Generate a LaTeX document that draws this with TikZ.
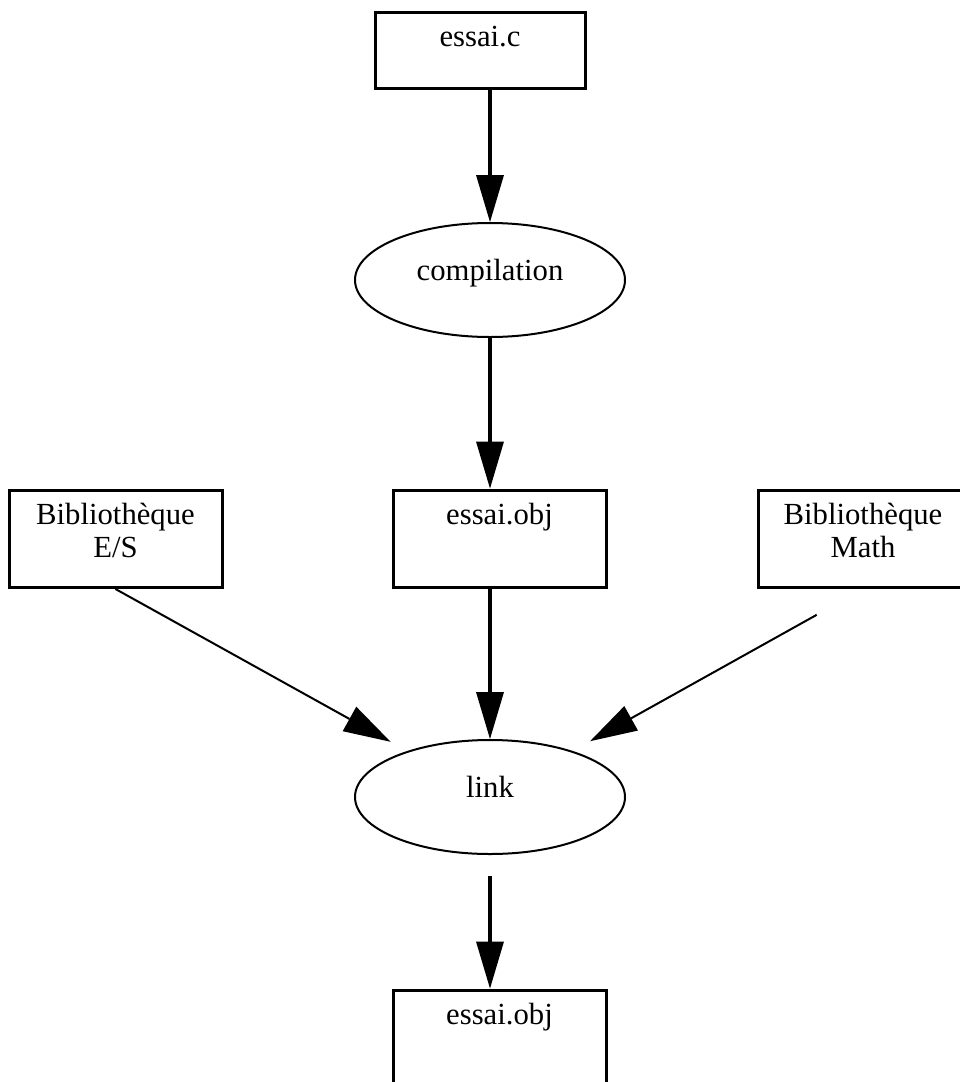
\documentclass[tikz,border=0pt]{standalone}
\usepackage{fontspec}
\setmainfont{Liberation Serif}
\usetikzlibrary{shapes.geometric,arrows.meta}
\newcommand{\filetext}[3]{\parbox[c][#2][t]{#1}{\centering\rule{0pt}{34pt}#3}}

\begin{document}
\begin{tikzpicture}[x=1pt, y=-1pt, font=\fontsize{30.7}{33}\selectfont,
  filebox/.style={rectangle, draw, line width=3pt, inner sep=0pt},
  stepnode/.style={ellipse, draw, line width=2pt, inner sep=0pt, minimum width=270pt, minimum height=114pt, text height=14pt, text depth=14pt},
  flow/.style={line width=3.5pt, -{Triangle[length=47pt, width=28pt, line width=0pt]}},
  feed/.style={line width=2pt, -{Triangle[length=47pt, width=28pt, line width=0pt]}}]
  \useasboundingbox (0,0) rectangle (959,1082);
  \node (src) [filebox] at (480, 50) {\filetext{210pt}{76pt}{essai.c}};
  \node (comp) [stepnode] at (490, 280) {compilation};
  \node (obj) [filebox] at (499.5, 538.5) {\filetext{213pt}{97pt}{essai.obj}};
  \node (libes) [filebox] at (115.5, 539) {\filetext{213pt}{97pt}{Bibliothèque\\E/S}};
  \node (libmath) [filebox] at (863, 539) {\filetext{210pt}{97pt}{Bibliothèque\\Math}};
  \node (link) [stepnode] at (490, 797) {link};
  \node (out) [filebox] at (499.5, 1038.5) {\filetext{213pt}{97pt}{essai.obj}};
  \draw [flow] (src.south -| comp.north) -- (comp.north);
  \draw [flow] (comp.south) -- (obj.north -| comp.south);
  \draw [flow] (obj.south -| link.north) -- (link.north);
  \draw [feed, shorten >=19pt] (libes.south) -- (link);
  \draw [feed, shorten <=53pt, shorten >=20pt] (libmath.south) -- (link);
  \draw [flow, shorten <=21pt] (link.south) -- (out.north -| link.south);
\end{tikzpicture}
\end{document}
